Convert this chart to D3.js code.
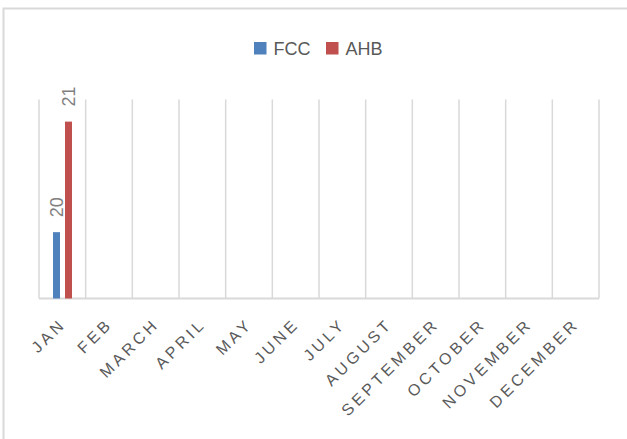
<!DOCTYPE html>
<html>
<head>
<meta charset="utf-8">
<script src="https://cdn.jsdelivr.net/npm/d3@7"></script>
<style>
  html, body { margin: 0; padding: 0; background: #ffffff; }
  svg { display: block; }
  text { font-family: "Liberation Sans", Arial, sans-serif; }
</style>
</head>
<body>
<svg id="chart" width="627" height="439"></svg>
<script>
// Monthly values per series (only January has readings)
const months = ["JAN", "FEB", "MARCH", "APRIL", "MAY", "JUNE", "JULY", "AUGUST",
                "SEPTEMBER", "OCTOBER", "NOVEMBER", "DECEMBER"];
const seriesNames = ["FCC", "AHB"];
const fccValues = [20, null, null, null, null, null, null, null, null, null, null, null];
const ahbValues = [21, null, null, null, null, null, null, null, null, null, null, null];
const seriesColors = ["#4f81bd", "#c0504d"];
const yDomain = [19.4, 21.2];

const svg = d3.select("#chart");
const plot = { left: 39, right: 599, top: 99.5, bottom: 298.5 };
const gridColor = "#d9d9d9";

// Chart area border (top and left edges visible; the rest runs off the canvas)
svg.append("rect")
  .attr("x", 3.5).attr("y", 8.5)
  .attr("width", 700).attr("height", 500)
  .attr("fill", "none")
  .attr("stroke", gridColor)
  .attr("stroke-width", 2);

const x = d3.scaleBand().domain(months).range([plot.left, plot.right]).padding(0);
const y = d3.scaleLinear().domain(yDomain).range([plot.bottom, plot.top]);

// Bars sit inside each month band with a small gap between the two series
const bw = x.bandwidth();
const x1 = d3.scaleBand().domain(seriesNames)
  .range([bw * 0.3, bw * 0.707])
  .paddingInner(0.4167).paddingOuter(0);

// Vertical gridlines at band boundaries
const gridXs = months.map(m => x(m)).concat([plot.right]);
svg.append("g").selectAll("line")
  .data(gridXs)
  .join("line")
  .attr("x1", d => d).attr("x2", d => d)
  .attr("y1", plot.top).attr("y2", plot.bottom)
  .attr("stroke", gridColor)
  .attr("stroke-width", 1.5);

// Category axis line
svg.append("line")
  .attr("x1", plot.left).attr("x2", plot.right)
  .attr("y1", plot.bottom).attr("y2", plot.bottom)
  .attr("stroke", gridColor)
  .attr("stroke-width", 2);

// Assemble rows for drawing
const rows = [];
months.forEach((m, i) => {
  [fccValues, ahbValues].forEach((vals, s) => {
    if (vals[i] != null) rows.push({ month: m, series: seriesNames[s], value: vals[i], color: seriesColors[s] });
  });
});

const barG = svg.append("g");
barG.selectAll("rect")
  .data(rows)
  .join("rect")
  .attr("x", d => x(d.month) + x1(d.series))
  .attr("y", d => y(d.value))
  .attr("width", x1.bandwidth())
  .attr("height", d => plot.bottom - y(d.value))
  .attr("fill", d => d.color);

// Data labels, rotated, above each bar
barG.selectAll("text")
  .data(rows)
  .join("text")
  .attr("transform", d => {
    const cx = x(d.month) + x1(d.series) + x1.bandwidth() / 2 + 6.5;
    const ty = y(d.value) - 15;
    return `translate(${cx},${ty}) rotate(-90)`;
  })
  .attr("text-anchor", "start")
  .attr("font-size", 18)
  .attr("fill", "#7f7f7f")
  .text(d => d.value);

// Category labels, slanted at 45 degrees
svg.append("g").selectAll("text")
  .data(months)
  .join("text")
  .attr("transform", d => `translate(${x(d) + bw / 2 + 4.5},${325}) rotate(-45)`)
  .attr("text-anchor", "end")
  .attr("font-size", 16)
  .attr("letter-spacing", 3.5)
  .attr("fill", "#595959")
  .text(d => d);

// Legend
const legend = svg.append("g");
const legendItems = [
  { name: seriesNames[0], color: seriesColors[0], x: 254 },
  { name: seriesNames[1], color: seriesColors[1], x: 326 }
];
legend.selectAll("rect")
  .data(legendItems)
  .join("rect")
  .attr("x", d => d.x).attr("y", 42)
  .attr("width", 12.5).attr("height", 12.5)
  .attr("fill", d => d.color);
legend.selectAll("text")
  .data(legendItems)
  .join("text")
  .attr("x", d => d.x + 19.5)
  .attr("y", 55)
  .attr("font-size", 18)
  .attr("fill", "#595959")
  .text(d => d.name);
</script>
</body>
</html>
